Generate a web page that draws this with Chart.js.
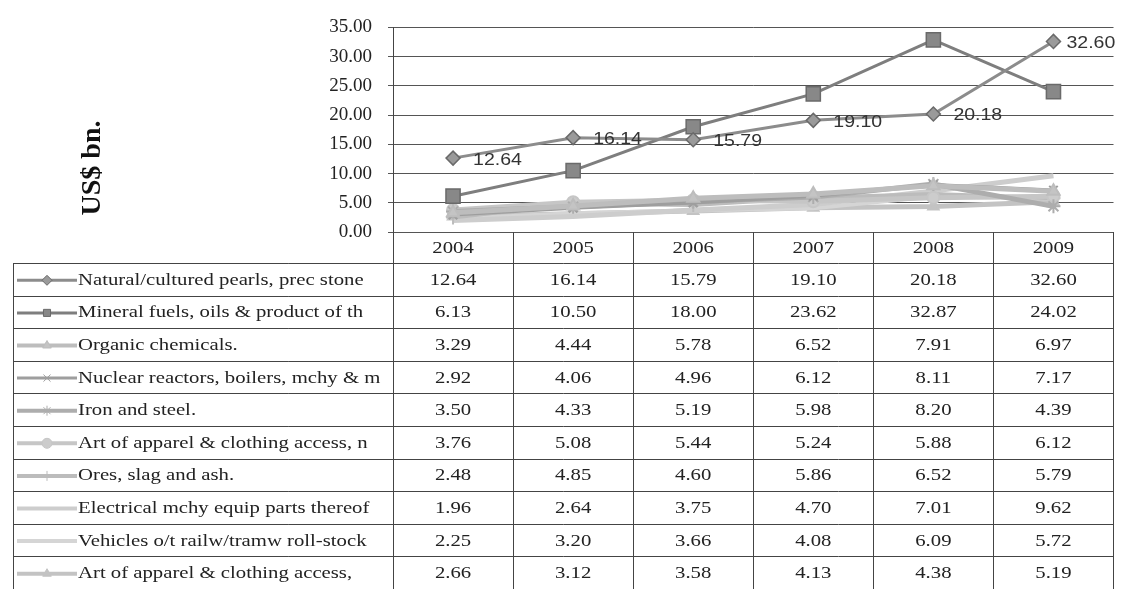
<!DOCTYPE html>
<html>
<head>
<meta charset="utf-8">
<title>Top export items chart</title>
<style>
  html, body { margin: 0; padding: 0; background: #fff; }
</style>
</head>
<body>
<canvas id="canvasChart" width="1125" height="589"></canvas>

<script src="https://cdn.jsdelivr.net/npm/chart.js"></script>
<script>
// categories
var years = ['2004', '2005', '2006', '2007', '2008', '2009'];

// series names as in the data table
var seriesNames = [
    'Natural/cultured pearls, prec stone',
    'Mineral fuels, oils & product of th',
    'Organic chemicals.',
    'Nuclear reactors, boilers, mchy & m',
    'Iron and steel.',
    'Art of apparel & clothing access, n',
    'Ores, slag and ash.',
    'Electrical mchy equip parts thereof',
    'Vehicles o/t railw/tramw roll-stock',
    'Art of apparel & clothing access,'
];

// series values (US$ bn.)
var pearls          = [12.64, 16.14, 15.79, 19.10, 20.18, 32.60];
var mineralFuels    = [6.13, 10.50, 18.00, 23.62, 32.87, 24.02];
var organicChem     = [3.29, 4.44, 5.78, 6.52, 7.91, 6.97];
var nuclearReactors = [2.92, 4.06, 4.96, 6.12, 8.11, 7.17];
var ironSteel       = [3.50, 4.33, 5.19, 5.98, 8.20, 4.39];
var apparelKnit     = [3.76, 5.08, 5.44, 5.24, 5.88, 6.12];
var ores            = [2.48, 4.85, 4.60, 5.86, 6.52, 5.79];
var electrical      = [1.96, 2.64, 3.75, 4.70, 7.01, 9.62];
var vehicles        = [2.25, 3.20, 3.66, 4.08, 6.09, 5.72];
var apparelNotKnit  = [2.66, 3.12, 3.58, 4.13, 4.38, 5.19];

// y axis ticks
var yTicks = [0, 5, 10, 15, 20, 25, 30, 35];

var allSeries = [pearls, mineralFuels, organicChem, nuclearReactors, ironSteel,
                 apparelKnit, ores, electrical, vehicles, apparelNotKnit];

// look of each series (scanned grey)
var lineColors  = ['#8c8c8c', '#7e7e7e', '#bdbdbd', '#9e9e9e', '#adadad', '#c6c6c6', '#bcbcbc', '#cdcdcd', '#d5d5d5', '#c3c3c3'];
var pointFills  = ['#9a9a9a', '#888888', '#c4c4c4', '#a4a4a4', '#b0b0b0', '#cccccc', '#bdbdbd', '#cdcdcd', '#d5d5d5', '#c3c3c3'];
var pointStyles = ['rectRot', 'rect', 'triangle', 'crossRot', 'star', 'circle', 'cross', 'line', 'line', 'triangle'];
var pointSizes  = [7, 10, 7, 6, 7, 6, 7, 0, 0, 6];
var lineWidths  = [3, 3, 5, 3, 5, 5, 4, 5, 4, 5];

var serif = "'Liberation Serif', 'Times New Roman', serif";
var stretch = 1.22; // the scan is a bit wider than tall

function stretchedText(ctx, text, x, y, align) {
    ctx.save();
    ctx.translate(x, y);
    ctx.scale(stretch, 1);
    ctx.textAlign = align;
    ctx.fillText(text, 0, 0);
    ctx.restore();
}

// value labels next to the first series
var pointLabels = {
    id: 'pointLabels',
    afterDatasetsDraw: function(chart) {
        var ctx = chart.ctx;
        var meta = chart.getDatasetMeta(0);
        ctx.save();
        ctx.font = "16px 'Liberation Sans', Arial, sans-serif";
        ctx.fillStyle = '#333';
        ctx.textBaseline = 'middle';
        meta.data.forEach(function(pt, i) {
            var dx = i === pearls.length - 1 ? 13 : 20;
            stretchedText(ctx, pearls[i].toFixed(2), pt.x + dx, pt.y + 2, 'left');
        });
        ctx.restore();
    }
};

// axis title, drawn where the scan has it
var axisTitle = {
    id: 'axisTitle',
    afterDraw: function(chart) {
        var ctx = chart.ctx;
        ctx.save();
        ctx.translate(93, 168);
        ctx.rotate(-Math.PI / 2);
        ctx.font = "bold 28px " + serif;
        ctx.fillStyle = '#111';
        ctx.textAlign = 'center';
        ctx.textBaseline = 'middle';
        ctx.fillText('US$ bn.', 0, 0);
        ctx.restore();
    }
};

// data table under the plot, columns follow the x scale
var dataTable = {
    id: 'dataTable',
    afterDraw: function(chart) {
        var ctx = chart.ctx;
        var x = chart.scales.x;
        var area = chart.chartArea;
        var colW = x.getPixelForValue(1) - x.getPixelForValue(0);
        var left = 13;
        var right = area.right;
        var headerBottom = area.bottom + 31;
        var rowH = (chart.height - headerBottom) / chart.data.datasets.length;

        ctx.save();
        ctx.strokeStyle = '#444';
        ctx.lineWidth = 1;

        // vertical borders of the value columns
        for (var c = 0; c <= years.length; c++) {
            var bx = Math.round(x.getPixelForValue(0) - colW / 2 + c * colW) + 0.5;
            if (c === years.length) bx = Math.round(right) - 0.5;
            ctx.beginPath();
            ctx.moveTo(bx, area.bottom);
            ctx.lineTo(bx, chart.height);
            ctx.stroke();
        }
        // left border of the legend column
        ctx.beginPath();
        ctx.moveTo(left + 0.5, headerBottom);
        ctx.lineTo(left + 0.5, chart.height);
        ctx.stroke();

        // horizontal borders
        for (var r = 0; r <= chart.data.datasets.length; r++) {
            var by = Math.round(headerBottom + r * rowH) + 0.5;
            ctx.beginPath();
            ctx.moveTo(left, by);
            ctx.lineTo(right, by);
            ctx.stroke();
        }

        ctx.fillStyle = '#222';
        ctx.textBaseline = 'middle';
        ctx.font = "17px " + serif;

        // header
        years.forEach(function(yr, i) {
            stretchedText(ctx, yr, x.getPixelForValue(i), (area.bottom + headerBottom) / 2 + 1, 'center');
        });

        // rows
        chart.data.datasets.forEach(function(ds, r) {
            var cy = headerBottom + r * rowH + rowH / 2 + 1;

            // legend key
            ctx.save();
            ctx.strokeStyle = ds.borderColor;
            ctx.lineWidth = Math.min(ds.borderWidth, 4);
            ctx.beginPath();
            ctx.moveTo(17, cy);
            ctx.lineTo(77, cy);
            ctx.stroke();
            if (ds.pointRadius > 0 && Chart.helpers && Chart.helpers.drawPoint) {
                ctx.fillStyle = ds.pointBackgroundColor;
                ctx.strokeStyle = ds.pointBorderColor;
                ctx.lineWidth = 1;
                Chart.helpers.drawPoint(ctx, {
                    pointStyle: ds.pointStyle,
                    radius: Math.min(ds.pointRadius, 5),
                    rotation: 0,
                    borderWidth: 1
                }, 47, cy);
            }
            ctx.restore();

            ctx.fillStyle = '#222';
            stretchedText(ctx, ds.label, 78, cy, 'left');

            ds.data.forEach(function(v, i) {
                stretchedText(ctx, v.toFixed(2), x.getPixelForValue(i), cy, 'center');
            });
        });
        ctx.restore();
    }
};

var datasets = allSeries.map(function(values, i) {
    return {
        label: seriesNames[i],
        data: values,
        borderColor: lineColors[i],
        borderWidth: lineWidths[i],
        backgroundColor: pointFills[i],
        pointStyle: pointStyles[i],
        pointRadius: pointSizes[i],
        pointBackgroundColor: pointFills[i],
        pointBorderColor: i < 2 ? '#6a6a6a' : lineColors[i],
        pointBorderWidth: i < 2 ? 1.5 : 2,
        tension: 0,
        fill: false
    };
});

var chart = new Chart(document.getElementById('canvasChart'), {
    type: 'line',
    data: {
        labels: years,
        datasets: datasets
    },
    options: {
        responsive: false,
        animation: false,
        devicePixelRatio: 1,
        layout: {
            padding: { left: 0, top: 26, right: 4, bottom: 357 }
        },
        plugins: {
            legend: { display: false },
            tooltip: { enabled: false }
        },
        scales: {
            x: {
                display: false,
                offset: true
            },
            y: {
                min: 0,
                max: 35,
                afterBuildTicks: function(scale) {
                    scale.ticks = yTicks.map(function(v) { return { value: v }; });
                },
                afterFit: function(scale) {
                    scale.width = 393;
                },
                ticks: {
                    callback: function(v) { return Number(v).toFixed(2); },
                    font: { family: serif, size: 19 },
                    color: '#222',
                    padding: 16
                },
                grid: {
                    color: '#555',
                    lineWidth: 1,
                    tickLength: 5
                },
                border: { display: true, color: '#444' }
            }
        }
    },
    plugins: [pointLabels, axisTitle, dataTable]
});
</script>
</body>
</html>
